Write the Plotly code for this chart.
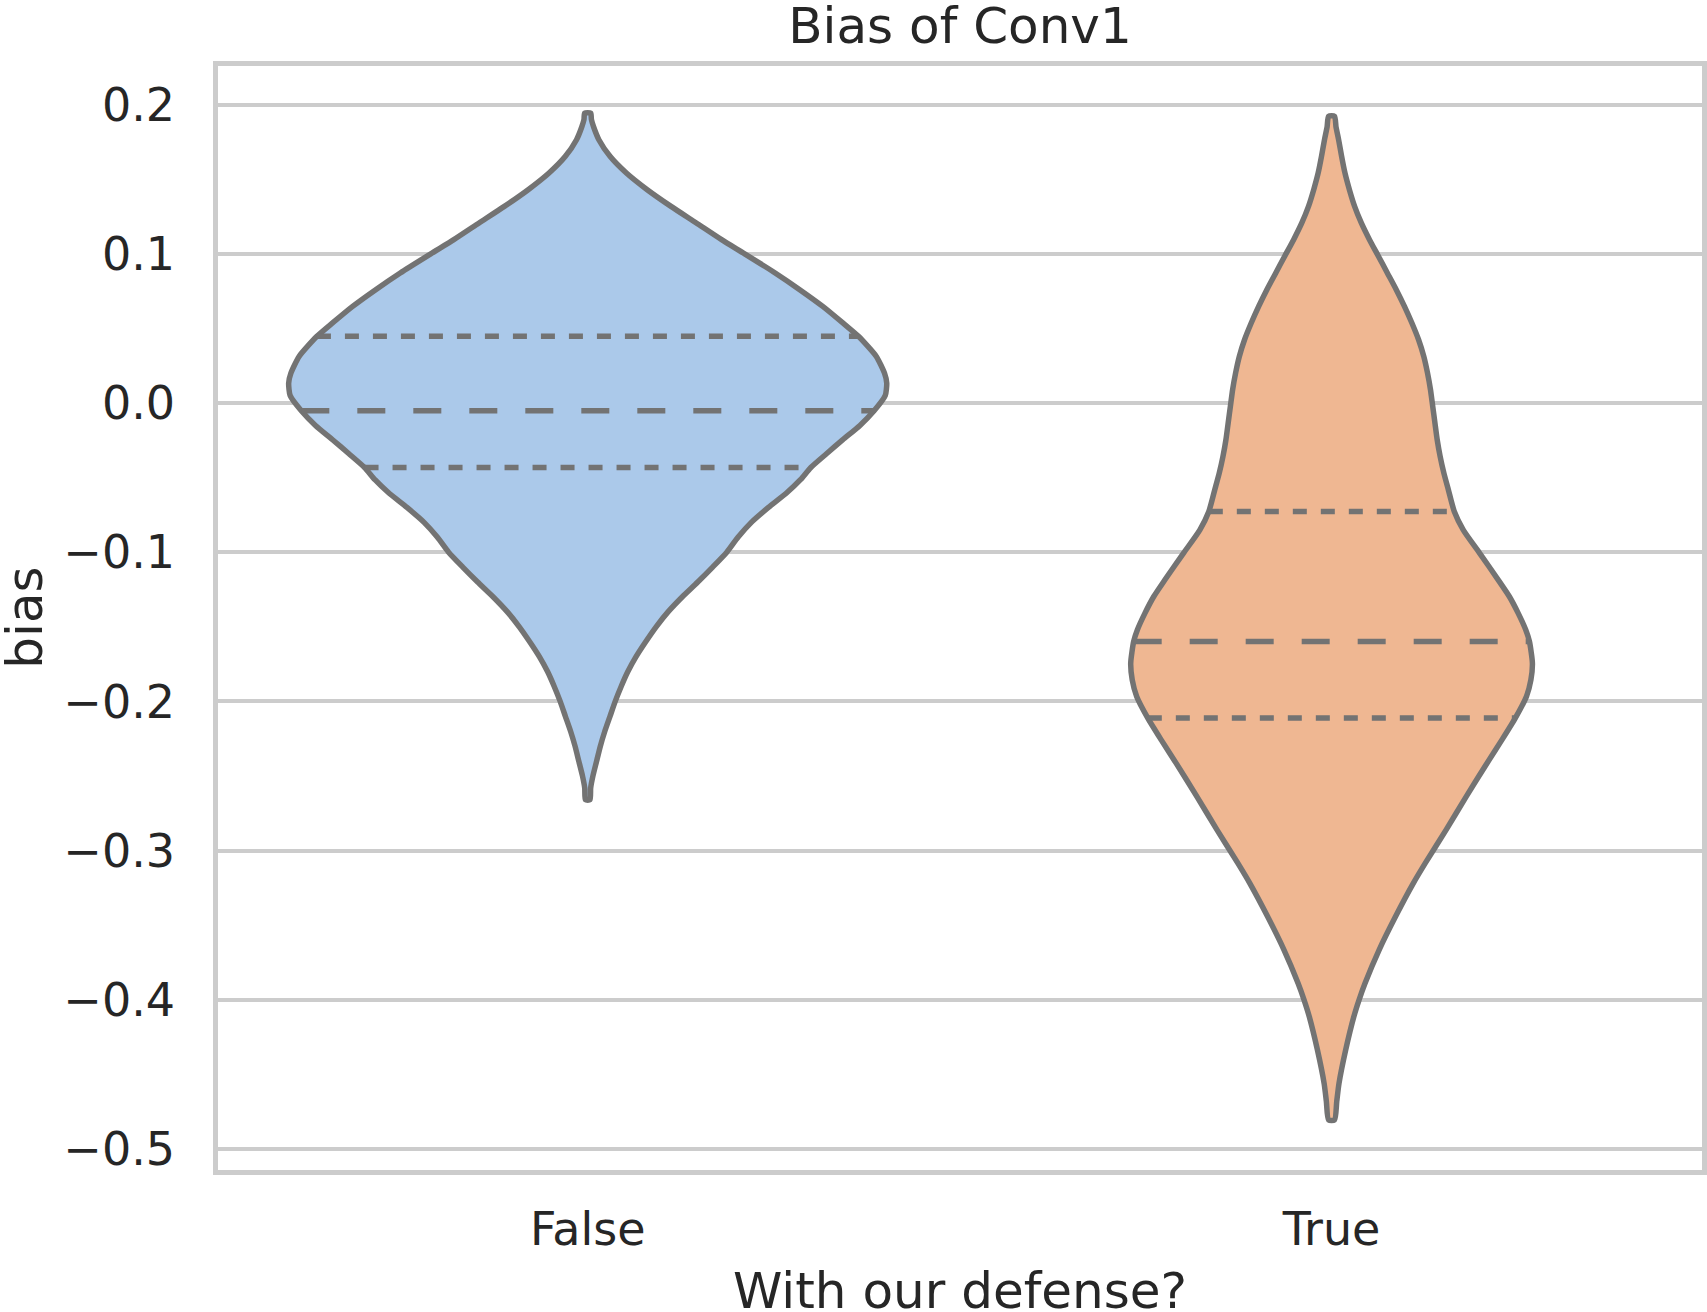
import numpy as np
import plotly.graph_objects as go

# ---------------- data ----------------
categories = ["False", "True"]

# violin outline: y value and half-width (in category units) of the density
false_y = [0.1943, 0.1900, 0.1850, 0.1765, 0.1654, 0.1542, 0.1430, 0.1318, 0.1207,
           0.1095, 0.1000, 0.0872, 0.0760, 0.0648, 0.0537, 0.0447, 0.0312, 0.0200,
           0.0134, 0.0050, -0.0052, -0.0150, -0.0246, -0.0340, -0.0432, -0.0514,
           -0.0600, -0.0700, -0.0800, -0.0900, -0.1000, -0.1100, -0.1200, -0.1300,
           -0.1400, -0.1500, -0.1600, -0.1700, -0.1800, -0.1900, -0.2000, -0.2100,
           -0.2200, -0.2300, -0.2400, -0.2500, -0.2580, -0.2660]
false_hw = [0.004, 0.005, 0.008, 0.015, 0.030, 0.052, 0.080, 0.112, 0.146,
            0.180, 0.211, 0.252, 0.285, 0.316, 0.343, 0.364, 0.388, 0.399,
            0.402, 0.400, 0.385, 0.366, 0.343, 0.321, 0.300, 0.286,
            0.268, 0.243, 0.220, 0.202, 0.187, 0.168, 0.148, 0.127,
            0.108, 0.092, 0.078, 0.065, 0.054, 0.045, 0.037, 0.030,
            0.023, 0.017, 0.012, 0.007, 0.004, 0.003]

true_y = [0.1922, 0.1850, 0.1765, 0.1654, 0.1542, 0.1430, 0.1318, 0.1207, 0.1095,
          0.0984, 0.0872, 0.0760, 0.0648, 0.0536, 0.0424, 0.0312, 0.0201, 0.0089,
          -0.0023, -0.0134, -0.0246, -0.0358, -0.0470, -0.0581, -0.0727, -0.0850,
          -0.1006, -0.1185, -0.1297, -0.1410, -0.1520, -0.1598, -0.1743, -0.1855,
          -0.1967, -0.2112, -0.2258, -0.2414, -0.2638, -0.2861, -0.3084, -0.3218,
          -0.3442, -0.3665, -0.3889, -0.4000, -0.4112, -0.4336, -0.4560, -0.4680,
          -0.4805]
true_hw = [0.004, 0.006, 0.0095, 0.0135, 0.018, 0.024, 0.031, 0.040, 0.051,
           0.063, 0.075, 0.087, 0.098, 0.108, 0.117, 0.124, 0.129, 0.133,
           0.136, 0.139, 0.142, 0.146, 0.151, 0.157, 0.165, 0.177,
           0.199, 0.224, 0.239, 0.251, 0.261, 0.266, 0.270, 0.268,
           0.262, 0.247, 0.229, 0.209, 0.181, 0.154, 0.126, 0.110,
           0.086, 0.064, 0.045, 0.037, 0.030, 0.019, 0.010, 0.007,
           0.004]

# quartiles: upper quartile, median, lower quartile
false_quartiles = [0.0447, -0.0052, -0.0432]
true_quartiles = [-0.0727, -0.1598, -0.2112]

y_ticks = [-0.5, -0.4, -0.3, -0.2, -0.1, 0.0, 0.1, 0.2]
y_tick_labels = ["\u22120.5", "\u22120.4", "\u22120.3", "\u22120.2", "\u22120.1", "0.0", "0.1", "0.2"]

title_text = "Bias of Conv1"
x_title = "With our defense?"
y_title = "bias"

# ---------------- styling ----------------
fills = ["#abc9ea", "#efb792"]
edge = "#737373"
LW = 5.5
TEXT = "#262626"
GRID = "#cccccc"
FONT = "DejaVu Sans"

fig = go.Figure()
groups = [(false_y, false_hw, false_quartiles), (true_y, true_hw, true_quartiles)]
for i, (ys, hws, qs) in enumerate(groups):
    ys = np.array(ys, dtype=float)
    hws = np.array(hws, dtype=float)
    xs = np.concatenate([i + hws, (i - hws)[::-1], [i + hws[0]]])
    yy = np.concatenate([ys, ys[::-1], [ys[0]]])
    fig.add_trace(go.Scatter(
        x=xs, y=yy, mode="lines", fill="toself", fillcolor=fills[i],
        line=dict(color=edge, width=LW, shape="spline", smoothing=0.6),
        hoverinfo="skip", showlegend=False))
    for j, q in enumerate(qs):
        w = float(np.interp(q, ys[::-1], hws[::-1]))
        dash = "28px,28px" if j == 1 else "14px,14px"
        fig.add_trace(go.Scatter(
            x=[i - w, i + w], y=[q, q], mode="lines",
            line=dict(color=edge, width=LW, dash=dash),
            hoverinfo="skip", showlegend=False))

fig.update_layout(
    width=1707, height=1312,
    margin=dict(l=218, r=5, t=66, b=142, autoexpand=False),
    paper_bgcolor="white", plot_bgcolor="white",
    font=dict(family=FONT, color=TEXT, size=46),
    title=dict(text=title_text, x=0.5, xref="paper", xanchor="center",
               y=1 - 43 / 1312, yref="container", yanchor="bottom",
               font=dict(size=50, color=TEXT, family=FONT)),
    showlegend=False,
)
# axis titles placed as annotations (plotly clamps axis titles inside fixed margins)
fig.add_annotation(text=x_title, xref="paper", yref="paper", x=0.5, y=0,
                   xanchor="center", yanchor="top", yshift=-89.6, showarrow=False,
                   font=dict(size=50, color=TEXT, family=FONT))
fig.add_annotation(text=y_title, xref="paper", yref="paper", x=0, y=0.5,
                   xanchor="center", yanchor="middle", xshift=-193.3, textangle=-90,
                   showarrow=False, font=dict(size=50, color=TEXT, family=FONT))

fig.update_xaxes(
    range=[-0.497, 1.498], tickmode="array", tickvals=[0, 1], ticktext=categories,
    showgrid=False, zeroline=False, showline=True, mirror=True,
    linecolor=GRID, linewidth=4.5, ticks="outside", ticklen=15,
    tickcolor="rgba(0,0,0,0)", tickfont=dict(size=46, color=TEXT),
    automargin=False)
fig.update_yaxes(
    range=[-0.5141, 0.2259], tickmode="array", tickvals=y_ticks, ticktext=y_tick_labels,
    showgrid=True, gridcolor=GRID, gridwidth=3.5, zeroline=False,
    showline=True, mirror=True, linecolor=GRID, linewidth=4.5,
    ticks="outside", ticklen=29, tickcolor="rgba(0,0,0,0)",
    tickfont=dict(size=46, color=TEXT),
    automargin=False)

fig.write_html("out.html")
